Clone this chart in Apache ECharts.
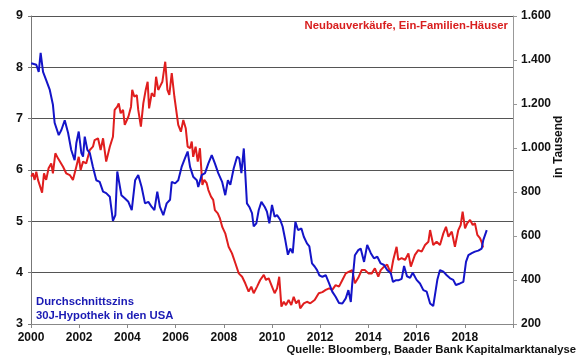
<!DOCTYPE html>
<html>
<head>
<meta charset="utf-8">
<script src="https://cdn.jsdelivr.net/npm/echarts@6/dist/echarts.min.js"></script>
<style>html,body{margin:0;padding:0;background:#fff}#c{width:580px;height:359px}</style>
</head>
<body>
<div id="c"></div>
<script>
// Durchschnittszins 30J-Hypothek (left axis, %)
const rateDates = [2000.01,2000.22,2000.32,2000.40,2000.50,2000.63,2000.78,2000.91,2000.98,2001.15,2001.26,2001.40,2001.54,2001.67,2001.81,2001.88,2001.98,2002.09,2002.16,2002.23,2002.34,2002.44,2002.57,2002.71,2002.85,2002.99,2003.12,2003.27,2003.40,2003.50,2003.58,2003.64,2003.75,2003.89,2004.04,2004.18,2004.32,2004.45,2004.59,2004.73,2004.87,2005.01,2005.12,2005.24,2005.35,2005.49,2005.63,2005.77,2005.84,2005.98,2006.11,2006.25,2006.39,2006.50,2006.60,2006.73,2006.88,2006.94,2007.08,2007.22,2007.36,2007.50,2007.63,2007.77,2007.93,2008.06,2008.17,2008.27,2008.41,2008.55,2008.64,2008.73,2008.83,2008.89,2008.96,2009.06,2009.17,2009.24,2009.35,2009.45,2009.56,2009.70,2009.79,2009.89,2010.00,2010.11,2010.21,2010.34,2010.44,2010.55,2010.66,2010.76,2010.86,2010.97,2011.08,2011.22,2011.32,2011.45,2011.55,2011.66,2011.77,2011.87,2011.96,2012.09,2012.23,2012.37,2012.50,2012.64,2012.78,2012.92,2013.06,2013.17,2013.27,2013.33,2013.44,2013.58,2013.68,2013.82,2013.95,2014.10,2014.23,2014.37,2014.51,2014.65,2014.78,2014.93,2015.02,2015.13,2015.24,2015.38,2015.48,2015.60,2015.73,2015.84,2016.00,2016.14,2016.28,2016.42,2016.56,2016.69,2016.76,2016.86,2016.97,2017.11,2017.25,2017.39,2017.52,2017.63,2017.80,2017.94,2018.05,2018.15,2018.29,2018.42,2018.56,2018.70,2018.77,2018.91];
const rateValues = [8.08,8.05,7.91,8.28,7.91,7.75,7.56,7.27,6.92,6.68,6.78,6.97,6.72,6.39,6.19,6.52,6.75,6.33,6.26,6.65,6.39,6.33,6.06,5.80,5.77,5.58,5.55,5.48,5.01,5.12,5.97,5.97,5.51,5.45,5.38,5.22,5.80,5.90,5.67,5.35,5.38,5.28,5.22,5.58,5.28,5.12,5.35,5.42,5.77,5.74,5.80,6.06,6.23,6.36,6.06,5.87,5.80,5.67,5.90,5.94,6.13,6.29,6.13,5.94,5.77,5.51,5.80,5.71,6.03,6.26,6.23,5.94,6.42,5.94,5.35,5.28,5.16,4.90,4.96,5.22,5.38,5.28,5.19,4.96,5.32,5.09,5.12,5.03,4.90,4.64,4.35,4.47,4.38,4.99,4.83,4.86,4.70,4.57,4.51,4.18,4.12,4.05,3.95,3.92,3.95,3.79,3.63,3.53,3.41,3.40,3.50,3.66,3.43,3.79,4.34,4.44,4.47,4.21,4.54,4.38,4.28,4.31,4.18,4.15,4.05,3.99,3.82,3.85,3.85,3.88,4.13,3.93,3.90,4.00,3.86,3.79,3.66,3.63,3.40,3.35,3.37,3.86,4.05,4.02,3.95,3.89,3.86,3.76,3.79,3.82,4.21,4.34,4.38,4.41,4.43,4.47,4.64,4.83];

// Neubauverkäufe, Ein-Familien-Häuser (right axis, Tausend)
const salesDates = [2000.01,2000.08,2000.15,2000.22,2000.29,2000.36,2000.46,2000.54,2000.63,2000.73,2000.84,2000.91,2001.01,2001.12,2001.19,2001.33,2001.46,2001.61,2001.74,2001.88,2001.98,2002.06,2002.16,2002.29,2002.44,2002.57,2002.64,2002.78,2002.89,2002.99,2003.12,2003.27,2003.40,2003.47,2003.58,2003.64,2003.72,2003.82,2003.89,2004.04,2004.15,2004.20,2004.29,2004.39,2004.45,2004.56,2004.66,2004.76,2004.84,2004.90,2005.01,2005.12,2005.19,2005.28,2005.35,2005.45,2005.52,2005.57,2005.66,2005.74,2005.84,2005.95,2006.02,2006.11,2006.22,2006.32,2006.42,2006.50,2006.60,2006.67,2006.73,2006.83,2006.92,2007.01,2007.11,2007.19,2007.29,2007.36,2007.47,2007.56,2007.63,2007.75,2007.84,2007.94,2008.06,2008.20,2008.34,2008.48,2008.62,2008.76,2008.89,2009.03,2009.14,2009.24,2009.38,2009.51,2009.66,2009.75,2009.86,2010.00,2010.11,2010.21,2010.30,2010.39,2010.49,2010.58,2010.69,2010.80,2010.90,2011.00,2011.11,2011.17,2011.32,2011.45,2011.59,2011.77,2011.94,2012.09,2012.23,2012.37,2012.50,2012.64,2012.78,2012.92,2013.06,2013.20,2013.33,2013.44,2013.58,2013.72,2013.86,2014.00,2014.14,2014.27,2014.41,2014.51,2014.65,2014.78,2014.93,2015.03,2015.17,2015.24,2015.38,2015.52,2015.66,2015.76,2015.93,2016.07,2016.21,2016.35,2016.49,2016.56,2016.69,2016.83,2016.97,2017.11,2017.22,2017.32,2017.46,2017.59,2017.73,2017.83,2017.91,2018.01,2018.10,2018.22,2018.33,2018.42,2018.52,2018.63,2018.69,2018.76];
const salesValues = [870,885,855,892,855,847,797,885,855,908,930,885,976,953,960,915,885,877,855,915,960,900,938,930,991,1006,1036,1044,991,1044,938,1006,1051,1173,1188,1203,1158,1173,1105,1142,1188,1264,1233,1241,1173,1097,1203,1264,1301,1180,1249,1233,1324,1264,1279,1301,1355,1392,1264,1241,1340,1233,1226,1105,1074,1127,1090,1006,999,1029,960,1006,938,999,832,855,840,809,779,764,718,703,680,640,612,551,521,476,430,415,385,347,370,340,370,400,423,400,408,370,340,362,415,279,301,286,309,286,324,294,309,271,294,301,294,309,340,345,355,362,355,377,370,400,430,438,445,385,410,445,445,430,430,453,415,445,461,470,430,491,551,491,499,491,521,461,514,536,529,559,574,627,559,574,559,612,642,597,620,551,627,650,711,635,658,673,650,658,605,590,575,548];

const xTicks = [2000,2002,2004,2006,2008,2010,2012,2014,2016,2018];
const leftTicks = [3,4,5,6,7,8,9];
const rightTicks = [200,400,600,800,1000,1200,1400,1600];

const FONT = '"Liberation Sans", Arial, sans-serif';
const zip = (a, b) => a.map((v, i) => [v, b[i]]);

const chart = echarts.init(document.getElementById('c'), null, {renderer: 'canvas'});
chart.setOption({
  animation: false,
  backgroundColor: '#ffffff',
  textStyle: {fontFamily: FONT},
  grid: {left: 31, right: 67, top: 16, bottom: 35, containLabel: false},
  xAxis: {
    type: 'value', min: 2000, max: 2020, interval: 2,
    axisLine: {lineStyle: {color: '#888', width: 1}},
    axisTick: {show: true, length: 4, lineStyle: {color: '#888'}},
    axisLabel: {
      color: '#111', fontSize: 12, fontWeight: 'bold', fontFamily: FONT, margin: 8,
      formatter: v => xTicks.includes(v) ? String(v) : ''
    },
    splitLine: {show: false}
  },
  yAxis: [
    {
      type: 'value', min: leftTicks[0], max: leftTicks[leftTicks.length - 1], interval: 1,
      axisLine: {show: true, lineStyle: {color: '#777'}},
      axisTick: {show: true, length: 3, lineStyle: {color: '#777'}},
      axisLabel: {color: '#111', fontSize: 12.5, fontWeight: 'bold', fontFamily: FONT, margin: 8},
      splitLine: {show: true, lineStyle: {color: '#555', width: 1}}
    },
    {
      type: 'value', min: rightTicks[0], max: rightTicks[rightTicks.length - 1], interval: 200,
      position: 'right',
      axisLine: {show: true, lineStyle: {color: '#999'}},
      axisTick: {show: true, length: 4, lineStyle: {color: '#999'}},
      axisLabel: {
        color: '#111', fontSize: 12, fontWeight: 'bold', fontFamily: FONT, margin: 8,
        formatter: v => String(v).replace(/\B(?=(\d{3})+(?!\d))/g, '.')
      },
      splitLine: {show: false}
    }
  ],
  series: [
    {
      name: 'Neubauverkäufe', type: 'line', yAxisIndex: 1, showSymbol: false,
      data: zip(salesDates, salesValues),
      lineStyle: {color: '#e01e1e', width: 2}, itemStyle: {color: '#e01e1e'}, z: 2
    },
    {
      name: 'Hypothekenzins', type: 'line', yAxisIndex: 0, showSymbol: false,
      data: zip(rateDates, rateValues),
      lineStyle: {color: '#1414c8', width: 2}, itemStyle: {color: '#1414c8'}, z: 3
    }
  ],
  graphic: [
    {type: 'text', right: 72, top: 20, style: {text: 'Neubauverkäufe, Ein-Familien-Häuser', fill: '#d81e1e', font: 'bold 11.3px ' + FONT}},
    {type: 'text', left: 36, top: 295, style: {text: 'Durchschnittszins\n30J-Hypothek in den USA', fill: '#1a1ab4', font: 'bold 11.3px ' + FONT, lineHeight: 14}},
    {type: 'text', right: 4, top: 344, style: {text: 'Quelle: Bloomberg, Baader Bank Kapitalmarktanalyse', fill: '#111', font: 'bold 11.3px ' + FONT}},
    {type: 'text', x: 553, y: 178, rotation: Math.PI / 2, style: {text: 'in Tausend', fill: '#111', font: 'bold 12px ' + FONT}}
  ]
});
</script>
</body>
</html>
